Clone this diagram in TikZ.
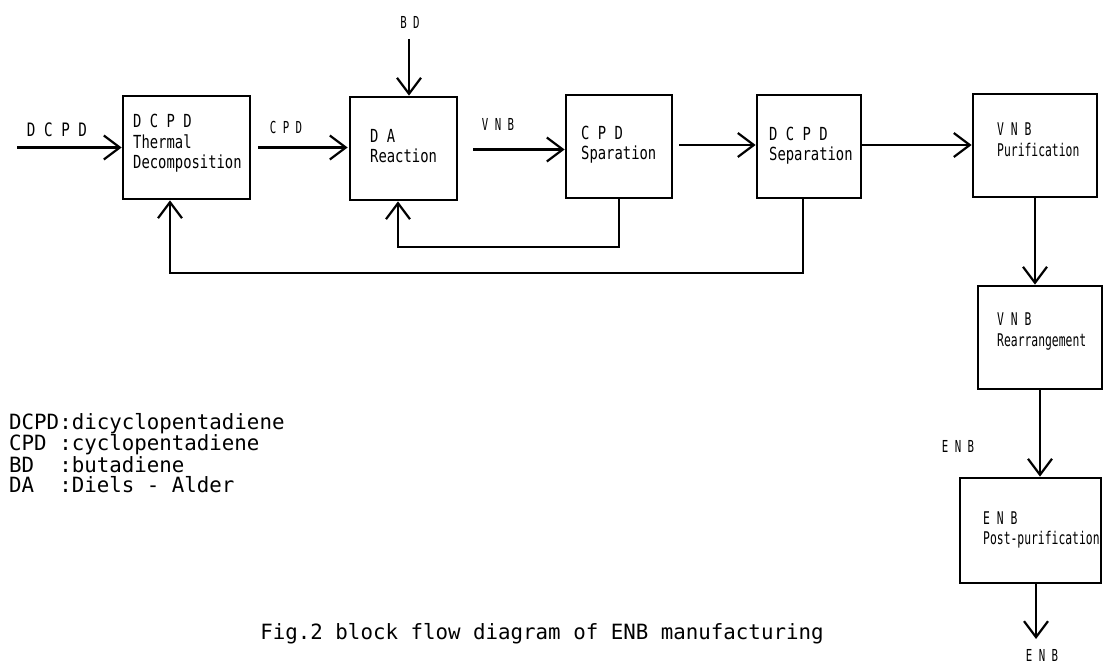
\documentclass[tikz,border=0pt]{standalone}
\usepackage{fontspec}
\usetikzlibrary{arrows.meta}
\newfontfamily\boxfont[FakeStretch=0.77]{DejaVu Sans Mono}
\newfontfamily\narrowfont[FakeStretch=0.65]{DejaVu Sans Mono}
\newfontfamily\legfont[FakeStretch=0.99]{DejaVu Sans Mono}
\tikzset{
  blk/.style={draw, line width=2.7pt, inner sep=0pt},
  flow/.style={line width=2.2pt, -{Straight Barb[length=16pt,width=24pt,line width=2.2pt]}},
  btxt/.style={inner sep=0pt, anchor=base west, font=\boxfont\fontsize{18pt}{20pt}\selectfont},
  ntxt/.style={inner sep=0pt, anchor=base west, font=\narrowfont\fontsize{17.5pt}{20pt}\selectfont},
  lbl/.style={inner sep=0pt, anchor=base, font=\narrowfont\fontsize{16.5pt}{20pt}\selectfont},
  lbig/.style={inner sep=0pt, anchor=base, font=\boxfont\fontsize{18.5pt}{20pt}\selectfont},
  leg/.style={inner sep=0pt, anchor=base west, font=\legfont\fontsize{21pt}{21pt}\selectfont},
}
\begin{document}
\begin{tikzpicture}[x=1pt,y=-1pt]
\useasboundingbox (0,0) rectangle (1104,663);
% boxes
\node[blk, minimum width=127pt, minimum height=103pt] (B1) at (186.5,147.5) {};
\node[blk, minimum width=107pt, minimum height=103pt] (B2) at (403.5,148.5) {};
\node[blk, minimum width=106pt, minimum height=103pt] (B3) at (619,146.5) {};
\node[blk, minimum width=104pt, minimum height=103pt] (B4) at (809,146.5) {};
\node[blk, minimum width=124pt, minimum height=103pt] (B5) at (1035,145.5) {};
\node[blk, minimum width=124pt, minimum height=103pt] (B6) at (1040,337.5) {};
\node[blk, minimum width=141pt, minimum height=105pt] (B7) at (1030.5,530.5) {};
% box texts
\node[btxt] (t1a) at (133,127.5) {D C P D};
\node[btxt] (t1b) at (133,148.5) {Thermal};
\node[btxt] (t1c) at (133,168.5) {Decomposition};
\node[btxt] (t2a) at (370,142.5) {D A};
\node[btxt] (t2b) at (370,162.5) {Reaction};
\node[btxt] (t3a) at (581,139.5) {C P D};
\node[btxt] (t3b) at (581,159.5) {Sparation};
\node[btxt] (t4a) at (769,140.5) {D C P D};
\node[btxt] (t4b) at (769,160.5) {Separation};
\node[ntxt] (t5a) at (997,135.5) {V N B};
\node[ntxt] (t5b) at (997,156.5) {Purification};
\node[ntxt] (t6a) at (997,325.5) {V N B};
\node[ntxt] (t6b) at (997,346.5) {Rearrangement};
\node[ntxt] (t7a) at (983,524.5) {E N B};
\node[ntxt] (t7b) at (983,544.5) {Post-purification};
% stream labels
\node[lbig] (lin) at (57,136.5) {D C P D};
\node[lbl] (lcpd) at (286,134) {C P D};
\node[lbl] (lvnb) at (498,130.5) {V N B};
\node[lbl] (lbd) at (410,29) {B D};
\node[lbl] (lenb) at (958,452) {E N B};
\node[lbl] (lout) at (1042,661) {E N B};
% coordinates for free ends
\coordinate (in) at (17,147.5);
\coordinate (bd) at (409,39);
\coordinate (out) at (1036,639);
\coordinate (fb1) at (803,273);
\coordinate (fb2) at (619,247);
% main flow
\draw[flow] (in) -- (B1.west);
\draw[flow] ([xshift=7pt]B1.east) -- ([xshift=-1pt]B1.east -| B2.west);
\draw[flow] ([xshift=15pt,yshift=-1pt]B2.east) -- ([yshift=-1pt]B2.east -| B3.west);
\draw[flow] ([xshift=6pt,yshift=1.5pt]B3.east) -- ([yshift=1.5pt]B3.east -| B4.west);
\draw[flow] ([yshift=1.5pt]B4.east) -- ([yshift=1.5pt]B4.east -| B5.west);
\draw[flow] (B5.south) -- (B5.south |- B6.north);
\draw[flow] (B6.south) -- (B6.south |- B7.north);
\draw[flow] (B7.south -| out) -- (out);
\draw[flow] (bd) -- (bd |- B2.north);
% recycles
\draw[flow] (B4.south -| fb1) -- (fb1) -| ([xshift=-16.5pt]B1.south);
\draw[flow] (B3.south) -- (fb2) -| ([xshift=-5.5pt]B2.south);
% legend
\node[leg] (g1) at (9,429.5) {DCPD:dicyclopentadiene};
\node[leg] (g2) at (9,450.5) {CPD~:cyclopentadiene};
\node[leg] (g3) at (9,472.5) {BD~~:butadiene};
\node[leg] (g4) at (9,492.5) {DA~~:Diels - Alder};
\node[leg, anchor=base] (cap) at (542,639.5) {Fig.2 block flow diagram of ENB manufacturing};
\end{tikzpicture}
\end{document}
